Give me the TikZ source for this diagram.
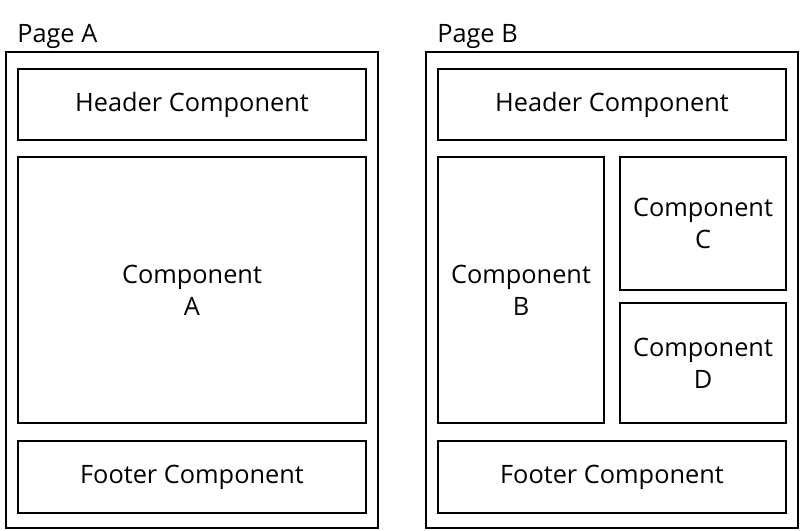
\documentclass[tikz,border=0pt]{standalone}
\usepackage{fontspec}
\setmainfont{Open Sans}
\begin{document}
\begin{tikzpicture}[x=0.75pt,y=-0.75pt,
  frame/.style={draw=black,line width=1.5pt,inner sep=0pt,outer sep=0pt},
  sz/.style 2 args={minimum width=#1*0.75pt,minimum height=#2*0.75pt},
  part/.style={frame,align=center,font=\fontsize{19}{24}\selectfont},
  title/.style={anchor=base west,inner sep=0pt,font=\fontsize{19}{24}\selectfont}]
\useasboundingbox (0,0) rectangle (800,531);
% page outlines
\node[frame,sz={372}{476}] (pageA) at (192,290) {};
\node[frame,sz={372}{476}] (pageB) at (612,290) {};
\node[title] (titleA) at (17,43) {Page A};
\node[title] (titleB) at (437,43) {Page B};
% page A parts
\node[part,sz={348}{71}] (headA) at (192,104.5) {Header Component};
\node[part,sz={348}{266}] (compA) at (192,290) {Component\\A};
\node[part,sz={348}{72}] (footA) at (192,477) {Footer Component};
% page B parts
\node[part,sz={348}{71}] (headB) at (612,104.5) {Header Component};
\node[part,sz={166}{266}] (compB) at (521,290) {Component\\B};
\node[part,sz={166}{133}] (compC) at (703,223.5) {Component\\C};
\node[part,sz={166}{120}] (compD) at (703,363) {Component\\D};
\node[part,sz={348}{72}] (footB) at (612,477) {Footer Component};
\end{tikzpicture}
\end{document}
